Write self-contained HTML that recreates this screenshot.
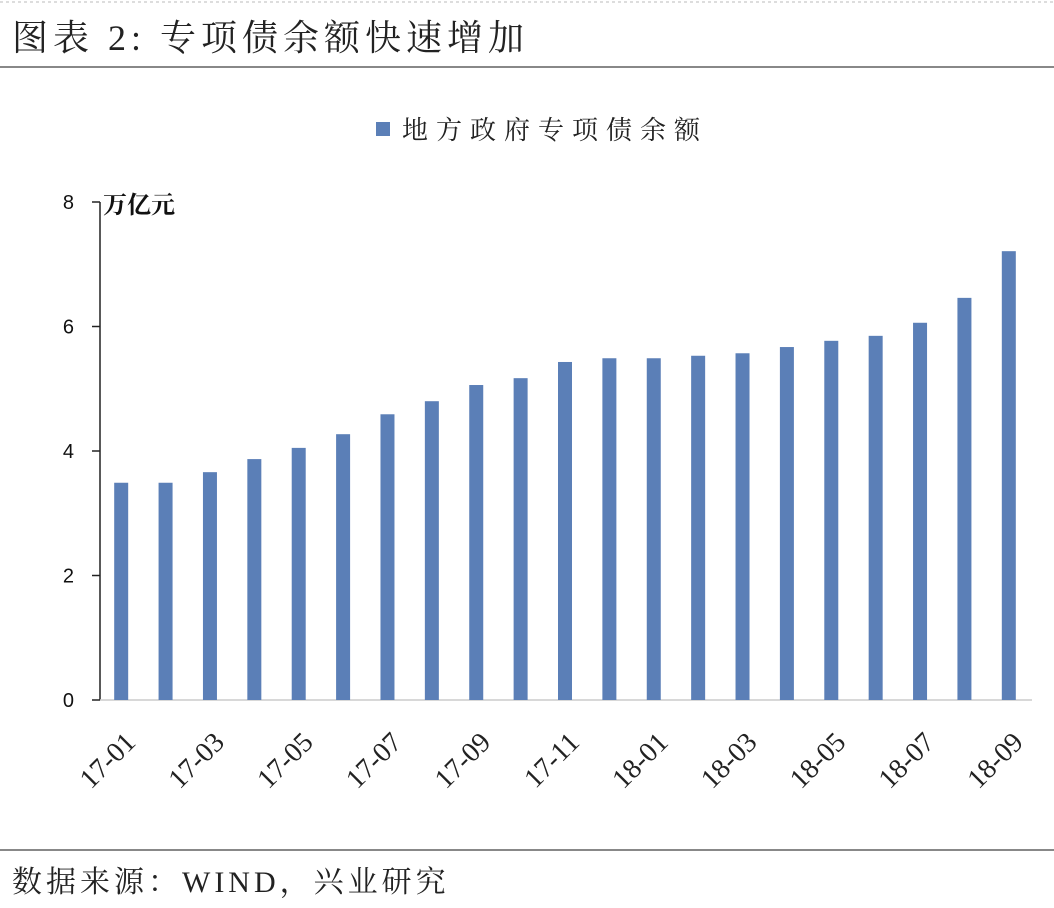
<!DOCTYPE html>
<html><head><meta charset="utf-8"><style>
body{margin:0;background:#fff;}
svg{display:block;}
</style></head><body>
<svg width="1054" height="908" viewBox="0 0 1054 908">
<line x1="0" y1="2" x2="1054" y2="2" stroke="#bbb" stroke-dasharray="3,3"/>
<text x="12" y="50" font-family="'Liberation Serif','Noto Serif CJK SC',serif" font-size="36" letter-spacing="5" fill="#222">图表 2:  专项债余额快速增加</text>
<line x1="0" y1="67" x2="1054" y2="67" stroke="#888" stroke-width="2"/>
<rect x="376" y="122" width="14" height="14" fill="#5b7fb7"/>
<text x="402" y="139" font-family="'Liberation Serif','Noto Serif CJK SC',serif" font-size="26" letter-spacing="8" fill="#222">地方政府专项债余额</text>
<text x="103" y="213" font-family="'Liberation Serif','Noto Serif CJK SC',serif" font-size="24" font-weight="bold" fill="#111">万亿元</text>
<g id="axes"></g>
<g id="bars"></g>
<line x1="0" y1="850" x2="1054" y2="850" stroke="#888" stroke-width="2"/>
<text x="12" y="892" font-family="'Liberation Serif','Noto Serif CJK SC',serif" font-size="30" letter-spacing="4" fill="#222">数据来源：WIND，兴业研究</text>
</svg>
<script>
const categories=["17-01","17-02","17-03","17-04","17-05","17-06","17-07","17-08","17-09","17-10","17-11","17-12","18-01","18-02","18-03","18-04","18-05","18-06","18-07","18-08","18-09"];
const values=[3.49,3.49,3.66,3.87,4.05,4.27,4.59,4.80,5.06,5.17,5.43,5.49,5.49,5.53,5.57,5.67,5.77,5.85,6.06,6.46,7.21];
const yTicks=[0,2,4,6,8];
const NS="http://www.w3.org/2000/svg";
const x0=100,x1=1032,y0=700,y1=202,yMax=8;
const step=(x1-x0)/categories.length;
function xc(i){return x0+step*(i+0.5)-1;}
function yv(v){return y0-(v/yMax)*(y0-y1);}
const axes=document.getElementById('axes'),bars=document.getElementById('bars');
function mk(tag,at,parent){const e=document.createElementNS(NS,tag);for(const k in at)e.setAttribute(k,at[k]);parent.appendChild(e);return e;}
let l=mk('line',{x1:x0,y1:y1,x2:x0,y2:y0,stroke:'#222','stroke-width':1.5},axes);


l=mk('line',{x1:x0,y1:y0,x2:x1,y2:y0,stroke:'#ccc','stroke-width':1.5},axes);


yTicks.forEach(t=>{
 const y=yv(t);
 const tk=mk('line',{x1:x0-8,y1:y,x2:x0,y2:y,stroke:'#222','stroke-width':1.5},axes);
 
 
 const tx=mk('text',{x:x0-26,y:y+7,'text-anchor':'end','font-family':"'Liberation Sans',sans-serif",'font-size':20,fill:'#111'},axes);
 tx.textContent=t;
 
 
});
values.forEach((v,i)=>{
 const r=mk('rect',{x:xc(i)-7,y:yv(v),width:14,height:y0-yv(v),fill:'#5b7fb7'},bars);
 
 
 if(i%2===0){
  const cx=xc(i)+2,cy=730;
  const tx=mk('text',{x:cx,y:cy,'text-anchor':'end','font-family':"'Liberation Serif',serif",'font-size':28,fill:'#222',transform:`rotate(-45 ${cx} ${cy})`,dy:'0.7em'},axes);
  tx.textContent=categories[i];
  
  
 }
});
</script>
</body></html>
